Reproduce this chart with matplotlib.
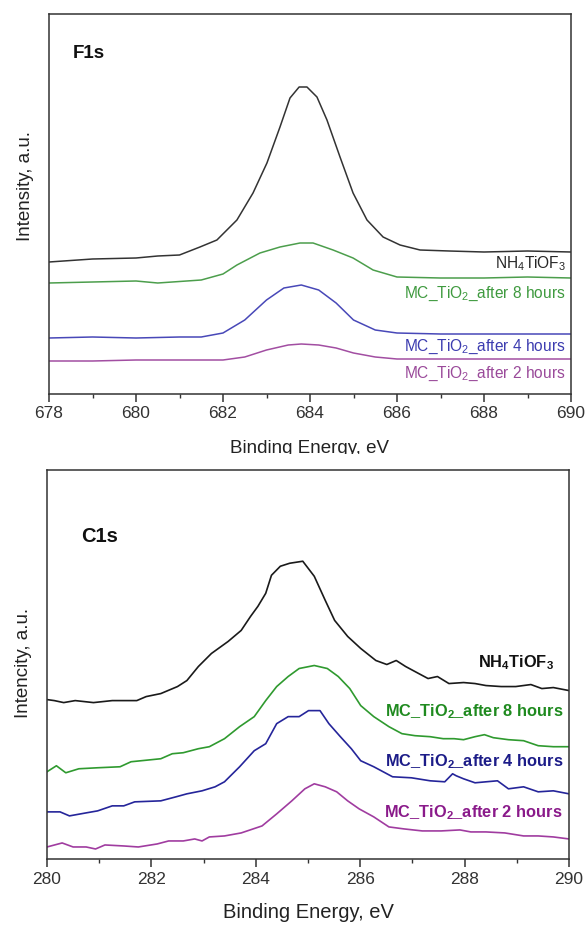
import numpy as np
import matplotlib
matplotlib.use('Agg')
import matplotlib.pyplot as plt
from matplotlib.patches import Rectangle

plt.rcParams['font.family'] = ['Liberation Sans', 'DejaVu Sans']
plt.rcParams['mathtext.fontset'] = 'custom'
plt.rcParams['mathtext.rm'] = 'Liberation Sans'
plt.rcParams['mathtext.it'] = 'Liberation Sans:italic'
plt.rcParams['mathtext.bf'] = 'Liberation Sans:bold'

# ---- F1s panel (arbitrary intensity units)
f1s_nh4_x = [678, 679, 680, 680.5, 681, 681.47, 681.86, 682.32, 682.69, 683.01, 683.31,
             683.54, 683.75, 683.93, 684.16, 684.39, 684.69, 684.99, 685.31, 685.68,
             686.07, 686.53, 687.2, 688, 689, 690]
f1s_nh4_y = [133, 136, 137, 139, 140, 148, 155, 175, 202, 232, 268,
             297, 308, 308, 298, 275, 238, 202, 175, 158,
             150, 145, 144, 143, 144, 143]

f1s_8h_x = [678, 679, 680, 680.5, 681.5, 682, 682.32, 682.85, 683.31, 683.77, 684.07,
            684.53, 684.99, 685.45, 686, 687, 688, 689, 690]
f1s_8h_y = [112, 113, 114, 112, 115, 121, 130, 142, 148, 152, 152,
            145, 137, 125, 118, 117, 117, 118, 117]

f1s_4h_x = [678, 679, 680, 681, 681.5, 682, 682.5, 683, 683.4, 683.8, 684.2, 684.6,
            685, 685.5, 686, 687, 688, 690]
f1s_4h_y = [57, 58, 57, 58, 58, 62, 75, 95, 107, 110, 105, 92,
            75, 65, 62, 61, 61, 61]

f1s_2h_x = [678, 679, 680, 681, 682, 682.5, 683, 683.5, 683.8, 684.2, 684.6, 685,
            685.5, 686, 687, 688, 690]
f1s_2h_y = [34, 34, 35, 35, 35, 38, 45, 50, 51, 50, 47, 42,
            38, 36, 36, 36, 36]

# ---- C1s panel
c1s_nh4_x = [280.0, 280.14, 280.32, 280.54, 280.89, 281.25, 281.72, 281.9, 282.18, 282.5,
             282.68, 282.9, 283.15, 283.47, 283.72, 283.9, 284.04, 284.19, 284.3, 284.47,
             284.65, 284.9, 285.12, 285.33, 285.51, 285.76, 286.01, 286.3, 286.51, 286.69,
             286.87, 287.12, 287.3, 287.48, 287.7, 287.98, 288.2, 288.41, 288.7, 288.98,
             289.27, 289.48, 289.7, 290.0]
c1s_nh4_y = [159, 158, 156, 158, 156, 158, 158, 162, 165, 172,
             178, 192, 205, 217, 228, 242, 252, 265, 283, 292,
             295, 297, 282, 258, 238, 222, 210, 198, 194, 198,
             192, 185, 180, 182, 175, 176, 175, 173, 172, 172,
             174, 170, 171, 168]

c1s_8h_x = [280.0, 280.18, 280.36, 280.61, 280.97, 281.4, 281.61, 282.18, 282.4, 282.61,
            282.9, 283.11, 283.4, 283.69, 283.97, 284.19, 284.4, 284.62, 284.83, 285.12,
            285.37, 285.58, 285.8, 286.01, 286.26, 286.55, 286.8, 287.05, 287.34, 287.59,
            287.8, 287.98, 288.2, 288.38, 288.55, 288.84, 289.13, 289.41, 289.7, 290.0]
c1s_8h_y = [87, 93, 86, 90, 91, 92, 97, 100, 105, 106,
            110, 112, 120, 132, 142, 158, 172, 182, 190, 193,
            190, 182, 170, 153, 142, 132, 125, 123, 122, 120,
            120, 119, 122, 124, 121, 119, 118, 113, 112, 112]

c1s_4h_x = [280.0, 280.25, 280.43, 280.75, 280.97, 281.25, 281.47, 281.68, 282.18, 282.47,
            282.68, 282.97, 283.22, 283.4, 283.69, 283.97, 284.19, 284.4, 284.62, 284.83,
            285.01, 285.23, 285.4, 285.62, 285.83, 286.01, 286.26, 286.62, 286.98, 287.34,
            287.62, 287.77, 287.84, 287.98, 288.2, 288.41, 288.63, 288.84, 289.13, 289.41,
            289.7, 290.0]
c1s_4h_y = [47, 47, 43, 46, 48, 53, 53, 57, 58, 62,
            65, 68, 72, 77, 92, 108, 115, 135, 142, 142,
            148, 148, 135, 122, 110, 98, 92, 82, 81, 78,
            77, 85, 83, 80, 76, 77, 78, 70, 72, 67,
            68, 65]

c1s_2h_x = [280.0, 280.29, 280.5, 280.75, 280.93, 281.11, 281.47, 281.75, 282.11, 282.33,
            282.61, 282.83, 282.97, 283.11, 283.4, 283.72, 284.12, 284.4, 284.69, 284.94,
            285.12, 285.33, 285.55, 285.76, 285.98, 286.26, 286.55, 286.84, 287.19, 287.55,
            287.91, 288.12, 288.41, 288.77, 289.13, 289.41, 289.7, 290.0]
c1s_2h_y = [12, 16, 12, 12, 10, 14, 13, 12, 15, 18,
            18, 20, 18, 22, 23, 26, 33, 45, 58, 70,
            75, 72, 67, 58, 50, 42, 32, 30, 28, 28,
            29, 27, 27, 26, 23, 23, 22, 20]

# label heights (text baseline, data units)
f1s_label_y = [127, 97, 44, 17]
c1s_label_y = [191, 142, 92, 42]

top_line_colors = ['#333333', '#4c9e4c', '#4848b8', '#a24ea2']
top_text_colors = ['#262626', '#3f9a3f', '#3c3cb0', '#9a4a9a']
bot_line_colors = ['#1a1a1a', '#2f9a2f', '#25259a', '#a03ca0']
bot_text_colors = ['#111111', '#1f8a1f', '#1c1c88', '#8a1a8a']

top_labels = ['NH$_4$TiOF$_3$', 'MC_TiO$_2$_after 8 hours',
              'MC_TiO$_2$_after 4 hours', 'MC_TiO$_2$_after 2 hours']
bot_labels = [r'NH$_\mathbf{4}$TiOF$_\mathbf{3}$', r'MC_TiO$_\mathbf{2}$_after 8 hours',
              r'MC_TiO$_\mathbf{2}$_after 4 hours', r'MC_TiO$_\mathbf{2}$_after 2 hours']


def style_axes(ax, xmin, xmax):
    ax.set_xlim(xmin, xmax)
    ax.set_xticks(np.arange(xmin, xmax + 1, 2))
    ax.set_xticks(np.arange(xmin, xmax + 1, 1), minor=True)
    ax.set_yticks([])
    for s in ax.spines.values():
        s.set_linewidth(1.1)
        s.set_color('#333333')
    ax.tick_params(axis='x', which='major', direction='out', length=6, width=1.1,
                   labelsize=12.5, colors='#333333', pad=3)
    ax.tick_params(axis='x', which='minor', direction='out', length=3, width=1.0,
                   colors='#333333')


fig = plt.figure(figsize=(5.86, 9.26), dpi=100)

# top panel
ax1 = fig.add_axes([49 / 586, 1 - 394 / 926, 522 / 586, 380 / 926])
f1s_x = [f1s_nh4_x, f1s_8h_x, f1s_4h_x, f1s_2h_x]
f1s_y = [f1s_nh4_y, f1s_8h_y, f1s_4h_y, f1s_2h_y]
for xs, ys, c in zip(f1s_x, f1s_y, top_line_colors):
    ax1.plot(xs, ys, color=c, lw=1.1)
ax1.set_ylim(1, 381)
style_axes(ax1, 678, 690)
for lab, yy, c in zip(top_labels, f1s_label_y, top_text_colors):
    ax1.text(0.99, yy, lab, color=c, fontsize=11.2, ha='right', va='baseline',
             transform=ax1.get_yaxis_transform())
ax1.text(0.046, 0.895, 'F1s', fontsize=13.5, fontweight='bold', color='#111111',
         transform=ax1.transAxes, va='center')

# bottom panel
ax2 = fig.add_axes([47 / 586, 1 - 859 / 926, 522 / 586, 389 / 926])
c1s_x = [c1s_nh4_x, c1s_8h_x, c1s_4h_x, c1s_2h_x]
c1s_y = [c1s_nh4_y, c1s_8h_y, c1s_4h_y, c1s_2h_y]
for xs, ys, c in zip(c1s_x, c1s_y, bot_line_colors):
    ax2.plot(xs, ys, color=c, lw=1.2)
ax2.set_ylim(0, 388)
style_axes(ax2, 280, 290)
label_right = [0.971, 0.9885, 0.9885, 0.9875]
for lab, yy, c, xr in zip(bot_labels, c1s_label_y, bot_text_colors, label_right):
    ax2.text(xr, yy, lab, color=c, fontsize=11.8, fontweight='bold', ha='right',
             va='baseline', transform=ax2.get_yaxis_transform())
ax2.text(0.066, 0.828, 'C1s', fontsize=14.5, fontweight='bold', color='#111111',
         transform=ax2.transAxes, va='center')

# axis titles
fig.text(25 / 586, 1 - 186 / 926, 'Intensity, a.u.', rotation=90, fontsize=13.5,
         color='#222222', ha='center', va='center')
fig.text(24 / 586, 1 - 663 / 926, 'Intencity, a.u.', rotation=90, fontsize=13.5,
         color='#222222', ha='center', va='center')
fig.text(310 / 586, 1 - 453 / 926, 'Binding Energy, eV', fontsize=13.5, color='#222222',
         ha='center', va='baseline')
fig.text(308 / 586, 1 - 913 / 926, 'Binding Energy, eV', fontsize=14.5, color='#222222',
         ha='center', va='center')

# the upper picture is cut off just under its axis title
fig.patches.append(Rectangle((0, 1 - 468 / 926), 1, 14 / 926, transform=fig.transFigure,
                             facecolor='white', edgecolor='none', zorder=5))

fig.savefig('out.png', dpi=100)
